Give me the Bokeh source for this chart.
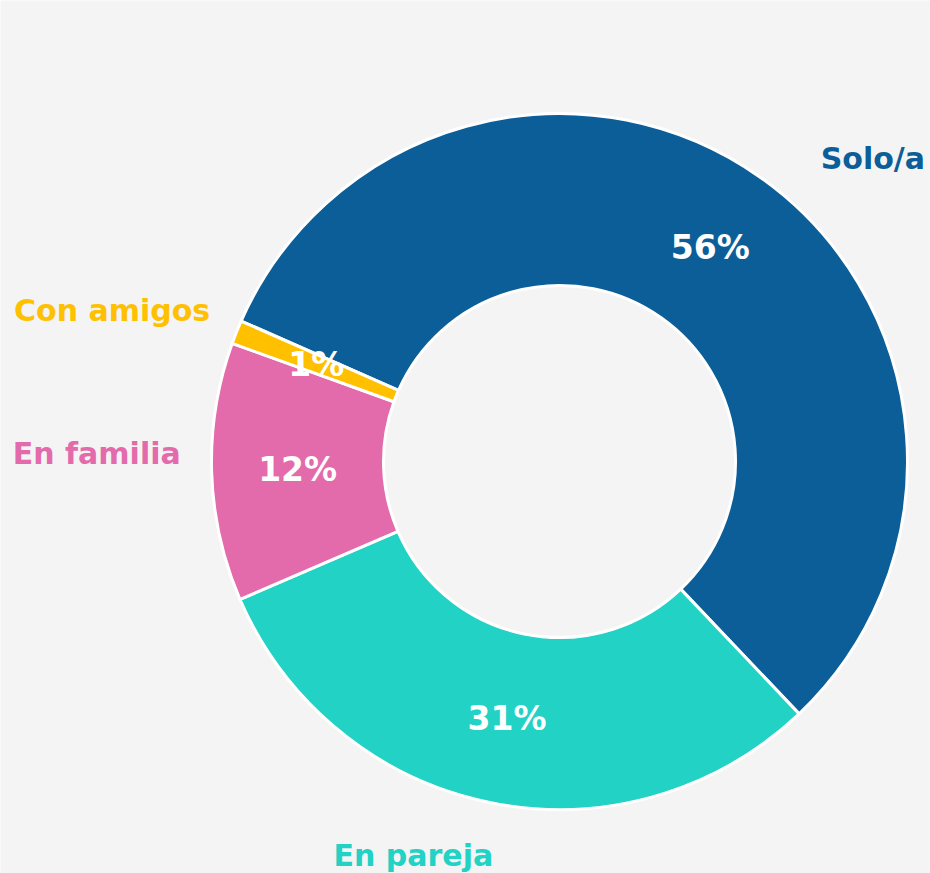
import numpy as np
from bokeh.plotting import figure
from bokeh.models import ColumnDataSource
from bokeh.core.properties import value
from bokeh.embed import file_html
from bokeh.resources import INLINE

# Data (clockwise order starting from the upper-left)
categories = ["Solo/a", "En pareja", "En familia", "Con amigos"]
shares = [56.3, 30.6, 12.0, 1.1]
pct_labels = ["56%", "31%", "12%", "1%"]
colors = ["#0c5e99", "#21d2c5", "#e36aab", "#ffc000"]

W, H = 930, 873
CX, CY = 559, 461  # donut centre in pixels from the top-left of the figure
R_OUT, R_IN = 348, 176
START_DEG = 156.2
FONT = "DejaVu Sans"

vals = np.array(shares, dtype=float)
frac = vals / vals.sum()
ang = np.deg2rad(START_DEG) - 2 * np.pi * np.concatenate([[0], np.cumsum(frac)])
starts = ang[:-1]
ends = ang[1:]
mids = (starts + ends) / 2

src = ColumnDataSource(dict(cat=categories, start=starts, end=ends, color=colors))

p = figure(width=W, height=H, output_backend="svg", toolbar_location=None,
           x_range=(-CX, W - CX), y_range=(-(H - CY), CY),
           min_border=0, outline_line_color=None,
           background_fill_color="#f4f4f4", border_fill_color="#f4f4f4")
p.axis.visible = False
p.grid.visible = False

p.annular_wedge(x=0, y=0, inner_radius=R_IN, outer_radius=R_OUT,
                start_angle="end", end_angle="start", direction="anticlock",
                fill_color="color", line_color="white", line_width=3, source=src)

# percentage labels inside the ring
r_mid = (R_IN + R_OUT) / 2
p.text(x=r_mid * np.cos(mids), y=r_mid * np.sin(mids), text=pct_labels,
       text_color="white", text_font=value(FONT), text_font_style="bold",
       text_font_size="33px", text_align="center", text_baseline="middle")

# category labels outside the ring (placed on the mid-angle, then nudged in pixels)
R_LAB = 400
dx = [31, -66, 21, 22]
dy = [24, 2, -20, -2]
aligns = ["left", "center", "right", "right"]
for i in range(len(categories)):
    p.text(x=[R_LAB * np.cos(mids[i])], y=[R_LAB * np.sin(mids[i])], text=[categories[i]],
           x_offset=dx[i], y_offset=dy[i],
           text_color=colors[i], text_font=value(FONT),
           text_font_style="bold", text_font_size="30px",
           text_align=aligns[i], text_baseline="middle")

open("out.html", "w").write(file_html(p, INLINE))
